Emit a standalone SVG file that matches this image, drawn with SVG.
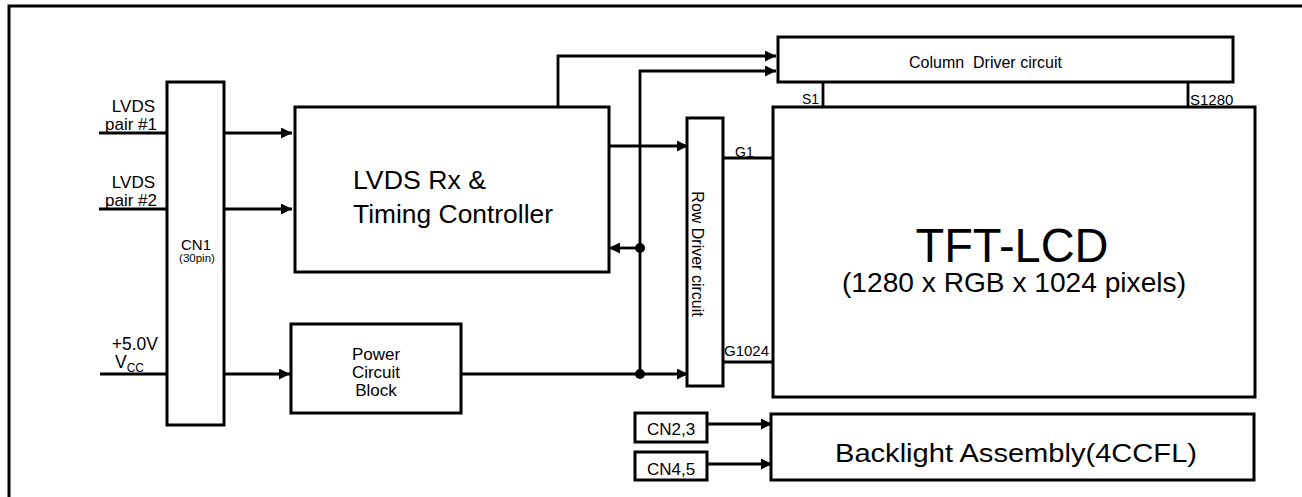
<svg xmlns="http://www.w3.org/2000/svg" width="1302" height="497" viewBox="0 0 1302 497">
<style>
.box{fill:#fff;stroke:#000;stroke-width:3}
.ln{fill:none;stroke:#000;stroke-width:2.8}
.arr{marker-end:url(#ah)}
text{font-family:"Liberation Sans",Arial,sans-serif;fill:#000}
</style>
<defs>
<marker id="ah" markerUnits="userSpaceOnUse" markerWidth="11" markerHeight="11" refX="10" refY="5" orient="auto" viewBox="0 0 10 10">
<path d="M0,0 L10,5 L0,10 z" fill="#000"/>
</marker>
</defs>
<rect width="1302" height="497" fill="#fff"/>
<path d="M9,497 V6 H1302" fill="none" stroke="#000" stroke-width="3"/>

<g id="connectors">
<line class="ln" x1="99" y1="133" x2="167" y2="133"/>
<line class="ln arr" x1="224" y1="133" x2="292" y2="133"/>
<line class="ln" x1="99" y1="209" x2="167" y2="209"/>
<line class="ln arr" x1="224" y1="209" x2="292" y2="209"/>
<line class="ln" x1="100" y1="374" x2="167" y2="374"/>
<line class="ln arr" x1="224" y1="374" x2="290" y2="374"/>
<path class="ln arr" d="M558,107 V56 H776"/>
<path class="ln arr" d="M640,374 V71 H776"/>
<line class="ln arr" x1="461" y1="374" x2="688" y2="374"/>
<line class="ln arr" x1="640" y1="248" x2="609" y2="248"/>
<line class="ln arr" x1="609" y1="146" x2="688" y2="146"/>
<line class="ln" x1="723" y1="158" x2="773" y2="158"/>
<line class="ln" x1="723" y1="362" x2="773" y2="362"/>
<line class="ln" x1="823" y1="82" x2="823" y2="107"/>
<line class="ln" x1="1188" y1="82" x2="1188" y2="107"/>
<line class="ln arr" x1="707" y1="424" x2="772" y2="424"/>
<line class="ln arr" x1="707" y1="464" x2="772" y2="464"/>
<circle cx="640" cy="248" r="5" fill="#000"/>
<circle cx="640" cy="374" r="5" fill="#000"/>
</g>

<g id="inputs">
<text x="155" y="112" font-size="17" text-anchor="end">LVDS</text>
<text x="157" y="130" font-size="17" text-anchor="end">pair #1</text>
<text x="155" y="188" font-size="17" text-anchor="end">LVDS</text>
<text x="157" y="206" font-size="17" text-anchor="end">pair #2</text>
<text x="158" y="350" font-size="17.5" text-anchor="end">+5.0V</text>
<text x="115" y="368" font-size="17.5">V<tspan font-size="12" dy="4">CC</tspan></text>
</g>

<g id="cn1">
<rect class="box" x="167" y="82" width="57" height="343"/>
<text x="196" y="250" font-size="15" text-anchor="middle">CN1</text>
<text x="197" y="262" font-size="11.5" text-anchor="middle">(30pin)</text>
</g>

<g id="lvds-rx">
<rect class="box" x="295" y="107" width="314" height="165"/>
<text x="353" y="189" font-size="25" textLength="133" lengthAdjust="spacingAndGlyphs">LVDS Rx &amp;</text>
<text x="353" y="223" font-size="25" textLength="200" lengthAdjust="spacingAndGlyphs">Timing Controller</text>
</g>

<g id="power">
<rect class="box" x="291" y="324" width="170" height="89"/>
<text x="376" y="360" font-size="17" text-anchor="middle">Power</text>
<text x="376" y="378" font-size="17" text-anchor="middle">Circuit</text>
<text x="376" y="396" font-size="17" text-anchor="middle">Block</text>
</g>

<g id="column-driver">
<rect class="box" x="778" y="37" width="455" height="45"/>
<text x="909" y="68" font-size="16" xml:space="preserve">Column  Driver circuit</text>
</g>

<g id="row-driver">
<rect class="box" x="687" y="118" width="36" height="268"/>
<text transform="translate(692,254) rotate(90)" font-size="16" text-anchor="middle">Row Driver circuit</text>
</g>

<g id="tft-lcd">
<rect class="box" x="773" y="107" width="482" height="290"/>
<text x="1012" y="262" font-size="48" text-anchor="middle" textLength="193" lengthAdjust="spacingAndGlyphs">TFT-LCD</text>
<text x="1014" y="292" font-size="28" text-anchor="middle" textLength="344" lengthAdjust="spacingAndGlyphs">(1280 x RGB x 1024 pixels)</text>
<text x="802" y="104" font-size="14">S1</text>
<text x="1190" y="105" font-size="15">S1280</text>
<text x="735" y="157" font-size="14">G1</text>
<text x="724" y="356" font-size="15">G1024</text>
</g>

<g id="cn23">
<rect class="box" x="635" y="413" width="72" height="29"/>
<text x="671" y="435" font-size="17" text-anchor="middle">CN2,3</text>
</g>

<g id="cn45">
<rect class="box" x="635" y="452" width="72" height="28"/>
<text x="671" y="475" font-size="17" text-anchor="middle">CN4,5</text>
</g>

<g id="backlight">
<rect class="box" x="771" y="414" width="483" height="66"/>
<text x="835" y="462" font-size="25" textLength="362" lengthAdjust="spacingAndGlyphs">Backlight Assembly(4CCFL)</text>
</g>
</svg>
